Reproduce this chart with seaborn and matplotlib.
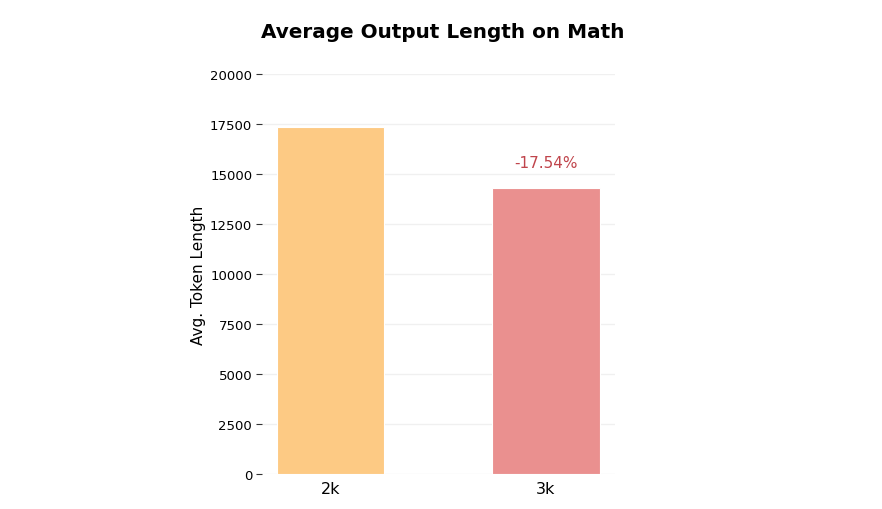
import matplotlib
matplotlib.use("Agg")
import matplotlib.pyplot as plt
import seaborn as sns
import pandas as pd

# data
settings = ["2k", "3k"]
avg_tokens = [17350, 14307]
bar_colors = ["#fdca84", "#ea908f"]

sns.set_theme(style="whitegrid")
plt.rcParams['font.family'] = ['DejaVu Sans']
plt.rcParams['text.color'] = 'black'
plt.rcParams['axes.labelcolor'] = 'black'
plt.rcParams['xtick.color'] = 'black'
plt.rcParams['ytick.color'] = 'black'

df = pd.DataFrame({"setting": settings, "tokens": avg_tokens})

fig = plt.figure(figsize=(8.82, 5.10), dpi=100)
ax = fig.add_axes([0.297, 0.0686, 0.4, 0.7844])

sns.barplot(data=df, x="setting", y="tokens", hue="setting", palette=bar_colors,
            saturation=1, width=0.5, legend=False, ax=ax,
            edgecolor="white", linewidth=0.8)

ax.set_xlim(-0.318, 1.32)
ax.set_ylim(0, 20000)
ax.set_yticks(range(0, 20001, 2500))

# relative change label over the second bar
change = (avg_tokens[1] - avg_tokens[0]) / avg_tokens[0] * 100
ax.text(1, avg_tokens[1] + 900, f"{change:.2f}%", ha="center", va="bottom",
        color="#c0454c", fontsize=11)

for s in ax.spines.values():
    s.set_visible(False)
ax.grid(axis="y", color="#f0f0f0", linewidth=1)
ax.grid(axis="x", visible=False)
ax.tick_params(axis="y", left=True, length=4, width=0.8, color="#333333", labelsize=9.5, pad=3)
ax.tick_params(axis="x", bottom=False, labelsize=11.5, pad=-1)

ax.set_xlabel("")
ax.set_ylabel("Avg. Token Length", fontsize=11, labelpad=3)
fig.suptitle("Average Output Length on Math", fontsize=14.4, fontweight="bold", x=0.502, y=0.955)

fig.savefig("out.png", dpi=100)
